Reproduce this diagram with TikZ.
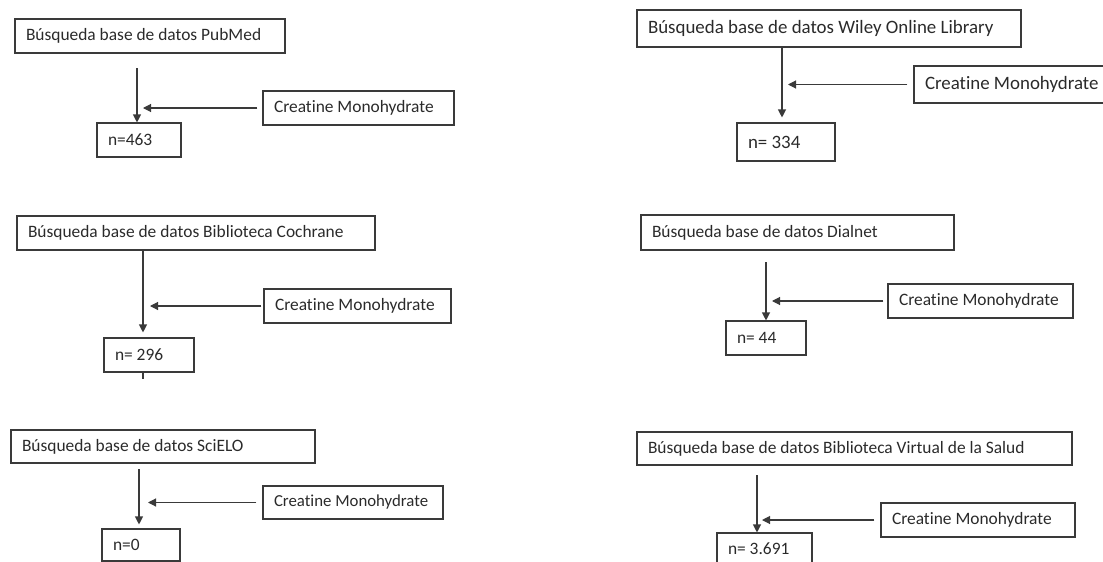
\documentclass[tikz,border=0pt]{standalone}
\usepackage{fontspec}
\setmainfont{Carlito}[Ligatures=NoCommon]
\usepackage{tikz}
\usetikzlibrary{calc}
\usetikzlibrary{arrows.meta, positioning}
\definecolor{linec}{HTML}{3A3A3A}
\definecolor{textc}{HTML}{2A2A2A}
\tikzset{>={Triangle[length=8pt,width=8pt]}}
\tikzset{box/.style={draw=linec, line width=1.1pt, inner xsep=11pt, inner ysep=0pt, align=flush left,
  minimum height=34pt, text=textc, font=\fontsize{17.4}{20}\selectfont}}

\begin{document}
\begin{tikzpicture} [x=1pt,y=-1pt,line width=1.1pt,draw=linec]
\useasboundingbox (0,0) rectangle (1103,562);
\clip (0,0) rectangle (1103,562);
\node [box, text width=248pt] (pub) at (150,36) {Búsqueda base de datos PubMed};
\node [box, text width=169pt] (c1) at (358.5,108) {Creatine Monohydrate};
\node [box, text width=62pt] (n1) at (139,140) {n=463};
\coordinate (a1) at (137,68);
\draw [->,linec] (a1) -- (a1 |- n1.north);
\draw [->,linec] ($(c1.west)+(-5pt,0)$) -- ($(c1.west -| a1)+(6pt,0)$);
\node [box, text width=362pt, minimum height=37pt, font=\fontsize{18.9}{22}\selectfont] (wil) at (829,28.5) {Búsqueda base de datos Wiley Online Library};
\node [box, text width=176pt, minimum height=37pt, font=\fontsize{18.9}{22}\selectfont] (c2) at (1013,84.5) {Creatine Monohydrate};
\node [box, text width=76pt, minimum height=38pt, font=\fontsize{18.9}{22}\selectfont] (n2) at (786,142) {n= 334};
\coordinate (a2) at (782,47);
\draw [->,linec,shorten >=5pt] (a2) -- (a2 |- n2.north);
\draw [->,linec] ($(c2.west)+(-6pt,0)$) -- ($(c2.west -| a2)+(6pt,0)$);
\node [box, text width=336pt] (coc) at (196,233) {Búsqueda base de datos Biblioteca Cochrane};
\node [box, text width=165pt] (c3) at (357.5,306) {Creatine Monohydrate};
\node [box, text width=68pt] (n3) at (149,355) {n= 296};
\coordinate (a3) at (143,250);
\draw [->,linec,shorten >=5pt] (a3) -- (a3 |- n3.north);
\draw [->,linec] ($(c3.west)+(-2pt,0)$) -- ($(c3.west -| a3)+(7pt,0)$);
\draw [linec] (n3.south -| a3) -- ++(0,-6pt);
\node [box, text width=291pt, minimum height=35pt] (dia) at (797.5,232.5) {Búsqueda base de datos Dialnet};
\node [box, text width=163pt] (c4) at (980.5,301) {Creatine Monohydrate};
\node [box, text width=58pt] (n4) at (766,338) {n= 44};
\coordinate (a4) at (766,262);
\draw [->,linec] (a4) -- (a4 |- n4.north);
\draw [->,linec] ($(c4.west)+(-4pt,0)$) -- ($(c4.west -| a4)+(6pt,0)$);
\node [box, text width=282pt, minimum height=33pt] (sci) at (163,446.5) {Búsqueda base de datos SciELO};
\node [box, text width=158pt, minimum height=33pt, font=\fontsize{16.8}{20}\selectfont] (c5) at (353,502.5) {Creatine Monohydrate};
\node [box, text width=56pt, minimum height=32pt] (n5) at (141,545) {n=0};
\coordinate (a5) at (139,469);
\draw [->,linec,shorten >=4pt] (a5) -- (a5 |- n5.north);
\draw [->,linec] ($(c5.west)+(-6pt,0)$) -- ($(c5.west -| a5)+(9pt,0)$);
\node [box, text width=413pt, minimum height=33pt] (bvs) at (854.5,448.5) {Búsqueda base de datos Biblioteca Virtual de la Salud};
\node [box, text width=172pt] (c6) at (978,520) {Creatine Monohydrate};
\node [box, text width=73pt, minimum height=31pt] (n6) at (764.5,548.5) {n= 3.691};
\coordinate (a6) at (757,475);
\draw [->,linec] (a6) -- (a6 |- n6.north);
\draw [->,linec] ($(c6.west)+(-6pt,0)$) -- ($(c6.west -| a6)+(5pt,0)$);
\end{tikzpicture}
\end{document}
